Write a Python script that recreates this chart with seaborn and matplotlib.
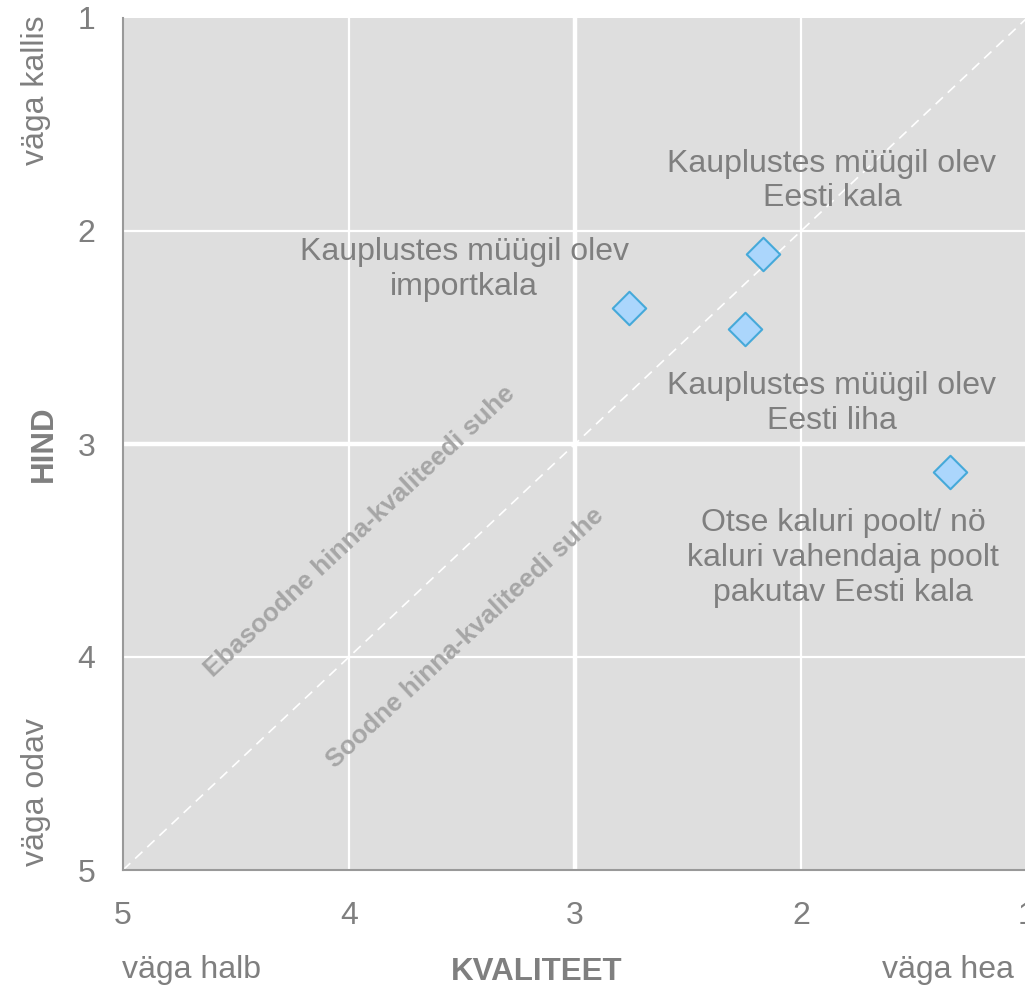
import numpy as np
import pandas as pd
import matplotlib
matplotlib.use("Agg")
import matplotlib.pyplot as plt
import seaborn as sns

# Hinna-kvaliteedi kaart
labels = [
    "Kauplustes müügil olev\nEesti kala",
    "Kauplustes müügil olev\nimportkala",
    "Kauplustes müügil olev\nEesti liha",
    "Otse kaluri poolt/ nö\nkaluri vahendaja poolt\npakutav Eesti kala",
]
kvaliteet = [2.17, 2.76, 2.25, 1.34]
hind = [2.11, 2.36, 2.46, 3.13]
ticks = [1, 2, 3, 4, 5]

# label placement (data coords), kept apart from values
label_pos = [(1.863, 1.765), (3.49, 2.18), (1.863, 2.81), (1.814, 3.535)]

sns.set_theme(style="white")
plt.rcParams['font.family'] = ['Liberation Sans', 'DejaVu Sans']

TXT = '#7f7f7f'
BG = '#dedede'

df = pd.DataFrame({"kvaliteet": kvaliteet, "hind": hind, "label": labels})

fig = plt.figure(figsize=(10.25, 9.88), dpi=100)
ax = fig.add_axes([123 / 1025, 118 / 988, 904 / 1025, 852 / 988])
ax.set_facecolor(BG)

ax.set_xlim(5, 1)
ax.set_ylim(5, 1)

# grid lines
for t in [2, 4]:
    ax.axvline(t, color='white', lw=1.6, zorder=1)
    ax.axhline(t, color='white', lw=1.6, zorder=1)
ax.axvline(3, color='white', lw=3.2, zorder=1)
ax.axhline(3, color='white', lw=3.2, zorder=1)

# diagonal
ax.plot([5, 1], [5, 1], color='white', lw=1.2, ls=(0, (6, 4)), zorder=2)

sns.scatterplot(data=df, x="kvaliteet", y="hind", marker='D', s=290,
                color='#abd6fc', edgecolor='#45a9d9', linewidth=1.5,
                ax=ax, zorder=5, legend=False)

for lab, (lx, ly) in zip(labels, label_pos):
    ax.text(lx, ly, lab, ha='center', va='center', fontsize=23,
            color=TXT, linespacing=1.2, zorder=6)

ax.text(3.951, 3.413, "Ebasoodne hinna-kvaliteedi suhe", rotation=43,
        ha='center', va='center', fontsize=18.8, fontweight='bold',
        color='#a6a6a6', rotation_mode='anchor', zorder=4)
ax.text(3.487, 3.911, "Soodne hinna-kvaliteedi suhe", rotation=43,
        ha='center', va='center', fontsize=18.8, fontweight='bold',
        color='#a6a6a6', rotation_mode='anchor', zorder=4)

ax.set_xticks(ticks)
ax.set_yticks(ticks)
ax.tick_params(axis='both', length=0, labelsize=23, labelcolor=TXT)
ax.tick_params(axis='x', pad=22)
ax.tick_params(axis='y', pad=20)
ax.set_xlabel("")
ax.set_ylabel("")

for side in ['top', 'right']:
    ax.spines[side].set_visible(False)
for side in ['left', 'bottom']:
    ax.spines[side].set_color('#999999')
    ax.spines[side].set_linewidth(1.5)

# axis captions
fig.text(537 / 1025, 1 - 972 / 988, "KVALITEET", ha='center', va='center',
         fontsize=22.5, fontweight='bold', color=TXT)
fig.text(191 / 1025, 1 - 970 / 988, "väga halb", ha='center', va='center',
         fontsize=23, color=TXT)
fig.text(948 / 1025, 1 - 970 / 988, "väga hea", ha='center', va='center',
         fontsize=23, color=TXT)
fig.text(44 / 1025, 1 - 444 / 988, "HIND", ha='center', va='center',
         rotation=90, fontsize=22.5, fontweight='bold', color=TXT)
fig.text(36 / 1025, 1 - 90 / 988, "väga kallis", ha='center', va='center',
         rotation=90, fontsize=23, color=TXT)
fig.text(36 / 1025, 1 - 792 / 988, "väga odav", ha='center', va='center',
         rotation=90, fontsize=23, color=TXT)

fig.savefig("out.png", dpi=100, facecolor='white')
